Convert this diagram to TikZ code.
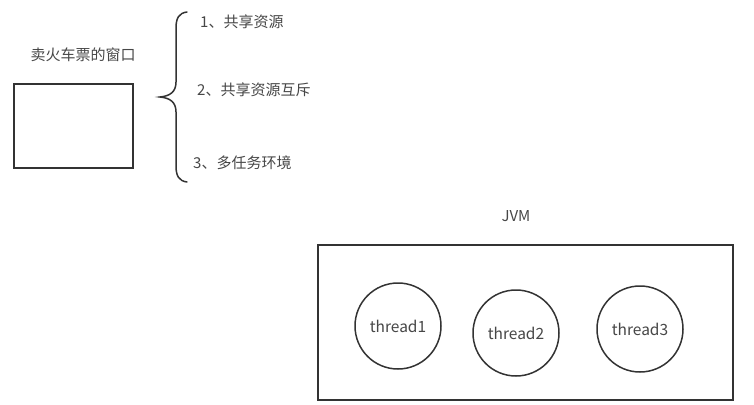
\documentclass[tikz,border=0pt]{standalone}
\usepackage{fontspec}
\setmainfont{Noto Sans CJK SC}
\begin{document}
\begin{tikzpicture}[x=1pt,y=-1pt,
  shape line/.style={draw=black!80, line width=1.5pt},
  txt/.style={text=black!72, font=\fontsize{15}{17}\selectfont, inner sep=0pt},
  thread/.style={shape line, circle, minimum size=86pt, inner sep=0pt, text=black!72, font=\fontsize{15.5}{17}\selectfont}]
\useasboundingbox (0,0) rectangle (754,404);
\fill[white] (0,0) rectangle (754,404);
% left window
\node[txt] (wlabel) at (83,55) {卖火车票的窗口};
\node[shape line, minimum width=119pt, minimum height=84pt, inner sep=0pt] (window) at (73.5,126) {};
% brace
\coordinate (btop) at (187,12);
\coordinate (btip) at (160,97);
\coordinate (bbot) at (187,182);
\draw[black!80, line width=1.5pt, line cap=round] (btop) .. controls (179,13) and (176,18) .. (176,28) -- (176,82) .. controls (176,92) and (170,96) .. (btip) .. controls (170,98) and (176,102) .. (176,112) -- (176,166) .. controls (176,176) and (179,181) .. (bbot);
\node[txt, anchor=west] (p1) at (200,22) {1、共享资源};
\node[txt, anchor=west] (p2) at (197,90) {2、共享资源互斥};
\node[txt, anchor=west] (p3) at (193,163) {3、多任务环境};
% JVM
\node[txt] (jvmlabel) at (516,216) {JVM};
\node[shape line, minimum width=415pt, minimum height=155pt, inner sep=0pt] (jvm) at (525.5,322.5) {};
\node[thread] (t1) at (398,326) {thread1};
\node[thread] (t2) at (516,333) {thread2};
\node[thread] (t3) at (640,329) {thread3};
\end{tikzpicture}
\end{document}
